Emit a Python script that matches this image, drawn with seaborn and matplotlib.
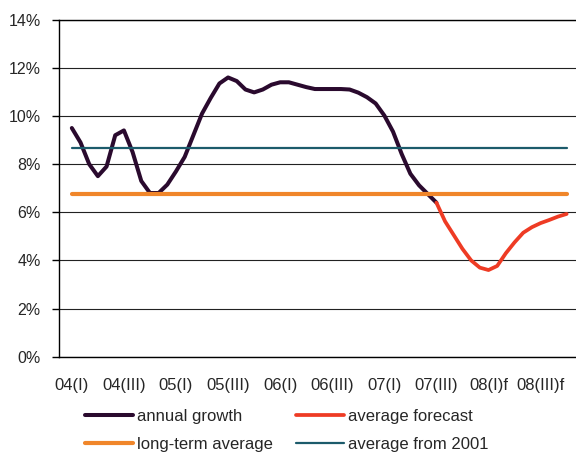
import numpy as np
import pandas as pd
import matplotlib.pyplot as plt
import seaborn as sns

# Annual growth, monthly (%)
growth = [9.5, 8.9, 8.0, 7.5, 7.9, 9.2, 9.4, 8.5, 7.3, 6.8, 6.8, 7.15, 7.7, 8.3, 9.2,
          10.1, 10.75, 11.35, 11.6, 11.45, 11.1, 10.98, 11.1, 11.3, 11.4, 11.4, 11.3,
          11.2, 11.12, 11.12, 11.12, 11.12, 11.1, 10.97, 10.78, 10.52, 10.02, 9.35, 8.42,
          7.6, 7.12, 6.76, 6.4]
# Average forecast, continues from the last growth point
forecast = [6.4, 5.62, 5.05, 4.48, 4.0, 3.7, 3.6, 3.77, 4.3, 4.75, 5.15, 5.38, 5.55,
            5.68, 5.82, 5.93]
long_term_avg = 6.77
avg_from_2001 = 8.69

tick_labels = ["04(I)", "04(III)", "05(I)", "05(III)", "06(I)", "06(III)",
               "07(I)", "07(III)", "08(I)f", "08(III)f"]

# month index: first point is month 1, forecast starts on last growth month
m_growth = np.arange(1, 1 + len(growth))
m_fc = np.arange(m_growth[-1], m_growth[-1] + len(forecast))
m_all = np.arange(1, m_fc[-1] + 1)

df_growth = pd.DataFrame({"month": m_growth, "value": growth})
df_fc = pd.DataFrame({"month": m_fc, "value": forecast})
df_lt = pd.DataFrame({"month": m_all, "value": long_term_avg})
df_01 = pd.DataFrame({"month": m_all, "value": avg_from_2001})

sns.set_style("white")
plt.rcParams["font.family"] = ["Liberation Sans", "DejaVu Sans"]

fig = plt.figure(figsize=(5.76, 4.53), dpi=100)
ax = fig.add_axes([0.1021, 0.2126, 0.8979, 0.7439])

# same drawing order as the original series
sns.lineplot(data=df_growth, x="month", y="value", ax=ax, color="#2a0a2e", lw=2.9,
             label="annual growth")
sns.lineplot(data=df_fc, x="month", y="value", ax=ax, color="#ee3b24", lw=2.7,
             label="average forecast")
sns.lineplot(data=df_lt, x="month", y="value", ax=ax, color="#f0862a", lw=3.0,
             label="long-term average")
sns.lineplot(data=df_01, x="month", y="value", ax=ax, color="#1c5b6b", lw=1.6,
             label="average from 2001")

ax.set_xlim(-0.5, 59.08)
ax.set_ylim(0, 14)
ax.set_yticks(np.arange(0, 15, 2))
ax.set_yticklabels([f"{v}%" for v in range(0, 15, 2)], fontsize=11.5)
ax.set_xticks(np.arange(-0.5, 54, 6))
ax.set_xticklabels([])
ax.set_xticks(np.arange(1, 56, 6), minor=True)
ax.set_xticklabels(tick_labels, minor=True, fontsize=12)
ax.tick_params(axis="x", which="major", length=5, width=1, color="black", direction="out")
ax.tick_params(axis="x", which="minor", length=0, pad=15.5)
ax.tick_params(axis="y", length=5, width=1, color="black", direction="out", pad=8, left=True)
ax.set_xlabel("")
ax.set_ylabel("")

ax.yaxis.grid(True, color="#222222", lw=0.8)
ax.set_axisbelow(True)
for s in ["left", "top", "bottom"]:
    ax.spines[s].set_color("black")
    ax.spines[s].set_linewidth(1)
ax.spines["right"].set_visible(False)

handles, labels = ax.get_legend_handles_labels()
order = ["annual growth", "long-term average", "average forecast", "average from 2001"]
hmap = dict(zip(labels, handles))
ax.get_legend().remove()
fig.legend([hmap[k] for k in order], order, loc="upper left", ncol=2,
           bbox_to_anchor=(85 / 576, 0.0965), frameon=False, fontsize=12,
           borderpad=0, borderaxespad=0, handlelength=2.88, handletextpad=0.22,
           labelspacing=0.74, columnspacing=1.4)

fig.savefig("out.png", dpi=100)
